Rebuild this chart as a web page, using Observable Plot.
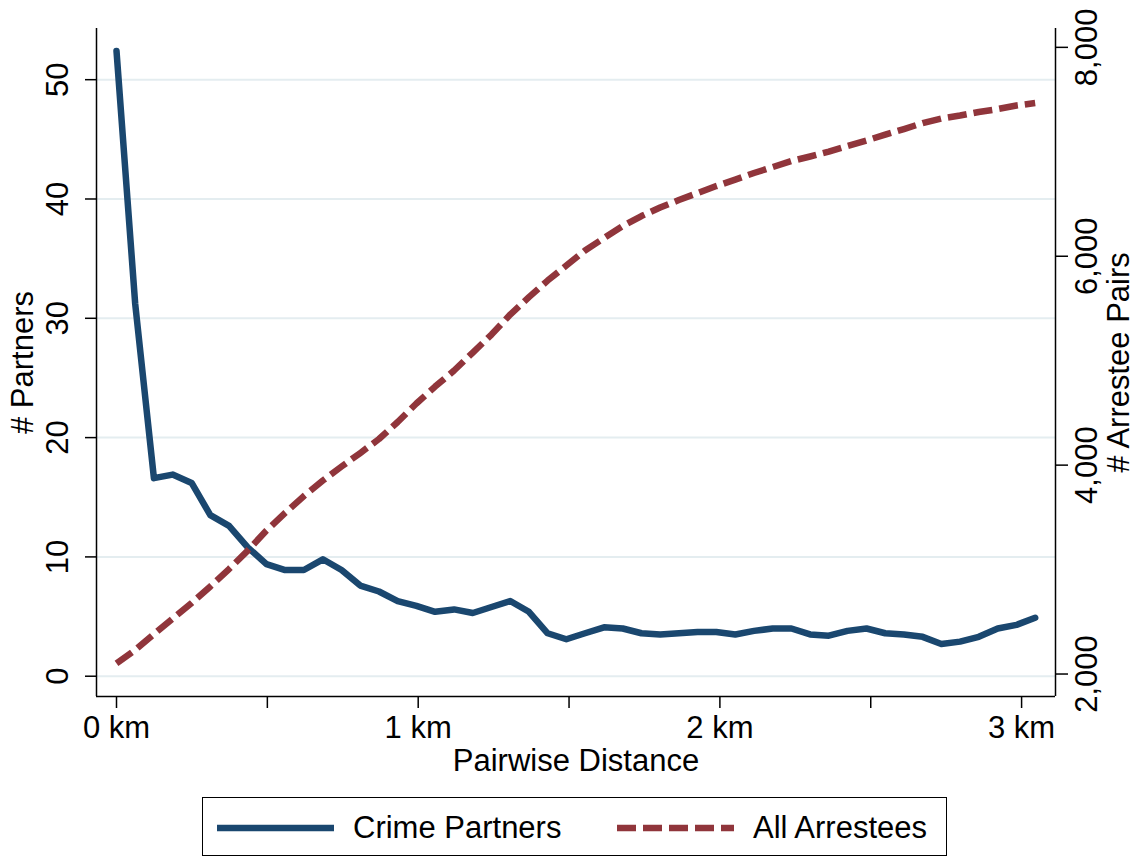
<!DOCTYPE html>
<html><head><meta charset="utf-8">
<script src="https://cdn.jsdelivr.net/npm/d3@7"></script>
<script src="https://cdn.jsdelivr.net/npm/@observablehq/plot@0.6"></script>
<style>
body{margin:0;background:#fff;font-family:"Liberation Sans",Arial,Helvetica,sans-serif;}
#wrap{position:relative;width:1138px;height:856px;overflow:hidden;background:#fff;}
#legend{position:absolute;left:202px;top:797px;width:745px;height:59px;box-sizing:border-box;border:1.5px solid #000;background:#fff;}
#legend svg{position:absolute;left:0;top:0;overflow:visible;}
</style></head><body>
<div id="wrap"><div id="chart"></div>
<div id="legend"><svg width="745" height="59">
<line x1="14" x2="131" y1="30" y2="30" stroke="#1a476f" stroke-width="6.5"/>
<text x="150" y="40" font-size="31" fill="#000" font-family="Liberation Sans, Arial, sans-serif">Crime Partners</text>
<line x1="414" x2="531" y1="30" y2="30" stroke="#90353b" stroke-width="6.5" stroke-dasharray="19,7"/>
<text x="550" y="40" font-size="31" fill="#000" font-family="Liberation Sans, Arial, sans-serif">All Arrestees</text>
</svg></div>
</div>
<script>
const distanceKm = [0, 0.062, 0.124, 0.186, 0.249, 0.311, 0.373, 0.435, 0.497, 0.559,
  0.621, 0.684, 0.746, 0.808, 0.870, 0.932, 0.994, 1.056, 1.119, 1.181,
  1.243, 1.305, 1.367, 1.429, 1.491, 1.553, 1.616, 1.678, 1.740, 1.802,
  1.864, 1.926, 1.988, 2.051, 2.113, 2.175, 2.237, 2.299, 2.361, 2.423,
  2.486, 2.548, 2.610, 2.672, 2.734, 2.796, 2.858, 2.921, 2.983, 3.045];
const crimePartners = [52.4, 31.2, 16.6, 16.9, 16.2, 13.5, 12.6, 10.8, 9.4, 8.9,
  8.9, 9.8, 8.9, 7.6, 7.1, 6.3, 5.9, 5.4, 5.6, 5.3,
  5.8, 6.3, 5.4, 3.6, 3.1, 3.6, 4.1, 4.0, 3.6, 3.5,
  3.6, 3.7, 3.7, 3.5, 3.8, 4.0, 4.0, 3.5, 3.4, 3.8,
  4.0, 3.6, 3.5, 3.3, 2.7, 2.9, 3.3, 4.0, 4.3, 4.9];
const allArrestees = [2101, 2230, 2381, 2531, 2680, 2838, 3005, 3182, 3374, 3543,
  3704, 3853, 3987, 4116, 4250, 4413, 4590, 4752, 4906, 5078,
  5250, 5442, 5609, 5767, 5911, 6055, 6174, 6289, 6385, 6466,
  6538, 6605, 6672, 6734, 6797, 6854, 6911, 6955, 7002, 7055,
  7108, 7165, 7218, 7275, 7318, 7347, 7381, 7409, 7443, 7467];

const leftTicks = [0, 10, 20, 30, 40, 50];
const rightTicks = [2000, 4000, 6000, 8000];
const xTicks = [0, 0.5, 1, 1.5, 2, 2.5, 3];
const xLabelTicks = [0, 1, 2, 3];
const xTitle = "Pairwise Distance";
const leftTitle = "# Partners";
const rightTitle = "# Arrestee Pairs";

const xDomain = [-0.0663, 3.1124];
const yDomain = [-1.70, 54.29];
// right axis (arrestee pairs) mapped linearly onto the left scale
const rightRef = [2000, 8000], leftRef = [0.184, 52.71];
const toLeft = r => leftRef[0] + (r - rightRef[0]) * (leftRef[1] - leftRef[0]) / (rightRef[1] - rightRef[0]);

const rows = distanceKm.map((d, i) => ({d, c: crimePartners[i], a: allArrestees[i]}));
const fmt = d3.format(",");
const FS = 31;

const chart = Plot.plot({
  width: 1138, height: 790,
  marginLeft: 96, marginRight: 83, marginTop: 28, marginBottom: 94,
  x: {domain: xDomain},
  y: {domain: yDomain},
  style: {fontFamily: '"Liberation Sans", Arial, Helvetica, sans-serif', background: "#fff", overflow: "visible"},
  marks: [
    Plot.ruleY(leftTicks, {stroke: "#e4edf0", strokeWidth: 2}),
    Plot.axisX(xTicks, {tickSize: 12, tickFormat: () => "", stroke: "#000", strokeWidth: 1.5, label: null}),
    Plot.axisY(leftTicks, {anchor: "left", tickSize: 11, tickFormat: () => "", stroke: "#000", strokeWidth: 1.5, label: null}),
    Plot.axisY(rightTicks.map(toLeft), {anchor: "right", tickSize: 12, tickFormat: () => "", stroke: "#000", strokeWidth: 1.5, label: null}),
    Plot.ruleX(xDomain, {stroke: "#000", strokeWidth: 1.5}),
    Plot.ruleY([yDomain[0]], {stroke: "#000", strokeWidth: 1.5}),
    Plot.line(rows, {x: "d", y: "c", stroke: "#1a476f", strokeWidth: 6.5, strokeLinejoin: "round", strokeLinecap: "round"}),
    Plot.line(rows, {x: "d", y: r => toLeft(r.a), stroke: "#90353b", strokeWidth: 6.5, strokeDasharray: "19,7", strokeLinecap: "butt"}),
    Plot.text(xLabelTicks, {x: d => d, text: d => `${d} km`, frameAnchor: "bottom", dy: 19, lineAnchor: "top", fontSize: FS, fill: "#000"}),
    Plot.text([xTitle], {text: d => d, frameAnchor: "bottom", dy: 52, lineAnchor: "top", fontSize: FS, fill: "#000"}),
    Plot.text(leftTicks, {y: d => d, text: d => String(d), frameAnchor: "left", dx: -38, rotate: -90, textAnchor: "middle", lineAnchor: "middle", fontSize: FS, fill: "#000"}),
    Plot.text(rightTicks, {y: d => toLeft(d), text: d => fmt(d), frameAnchor: "right", dx: 32, rotate: -90, textAnchor: "middle", lineAnchor: "middle", fontSize: FS, fill: "#000"}),
    Plot.text([leftTitle], {text: d => d, frameAnchor: "left", dx: -73, rotate: -90, textAnchor: "middle", lineAnchor: "middle", fontSize: FS, fill: "#000"}),
    Plot.text([rightTitle], {text: d => d, frameAnchor: "right", dx: 64, rotate: -90, textAnchor: "middle", lineAnchor: "middle", fontSize: FS, fill: "#000"})
  ]
});
document.getElementById("chart").appendChild(chart);
</script>
</body></html>
